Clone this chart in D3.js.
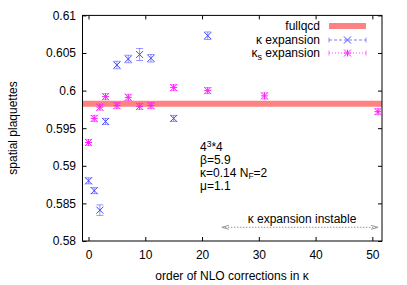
<!DOCTYPE html>
<html><head><meta charset="utf-8">
<script src="https://cdn.jsdelivr.net/npm/d3@7"></script>
<style>
body{margin:0;background:#fff}
svg{display:block}
text{font-family:"Liberation Sans",Arial,sans-serif;font-size:12px;fill:#000}
</style>
</head><body>
<svg id="c" width="407" height="285"></svg>
<script>
// ---- data ----
const ordersKappa  = [0, 1, 2, 3, 5, 7, 9, 11, 15, 21];
const valuesKappa  = [0.5880, 0.5867, 0.5841, 0.5959, 0.6034, 0.6042, 0.6048, 0.6043, 0.5963, 0.6073];
const errorsKappa  = [0.0004, 0.0004, 0.0007, 0.0004, 0.0005, 0.0005, 0.0008, 0.0005, 0.0004, 0.0005];

const ordersKappaS = [0, 1, 2, 3, 5, 7, 9, 11, 15, 21, 31, 51];
const valuesKappaS = [0.5931, 0.5963, 0.5978, 0.5992, 0.5980, 0.5991, 0.5979, 0.5980, 0.6004, 0.6000, 0.5993, 0.5972];
const errorsKappaS = [0.0004, 0.0004, 0.0004, 0.0004, 0.0004, 0.0004, 0.0004, 0.0004, 0.0004, 0.0004, 0.0004, 0.0004];

const fullqcd = 0.59824;

const xTicks = [0, 10, 20, 30, 40, 50];
const yTicks = [0.58, 0.585, 0.59, 0.595, 0.6, 0.605, 0.61];
const yTickLabels = ["0.58", "0.585", "0.59", "0.595", "0.6", "0.605", "0.61"];
const seriesNames = ["fullqcd", "κ expansion", "κs expansion"];
const annotation = ["4³*4", "β=5.9", "κ=0.14 N_F=2", "μ=1.1"];
const instableRange = [23.5, 51];

// ---- layout ----
const L = 82.5, R = 382, T = 15.4, B = 241;
const svg = d3.select("#c");
const x = d3.scaleLinear().domain([-1.06, 51.7]).range([L, R]);
const y = d3.scaleLinear().domain([0.58, 0.61]).range([B, T]);

const BLUE = "#4646ff", MAG = "#ff20ff", BAND = "#ff8282";

// fullqcd band
svg.append("line").attr("x1", L).attr("x2", R)
  .attr("y1", y(fullqcd)).attr("y2", y(fullqcd))
  .attr("stroke", BAND).attr("stroke-width", 6);

// axes
function style(g){
  g.attr("font-family", null).attr("font-size", null);
  g.select(".domain").remove();
  g.selectAll(".tick line").attr("stroke", "#000");
}
svg.append("g").attr("transform", `translate(0,${B})`)
  .call(d3.axisBottom(x).tickValues(xTicks).tickSizeInner(-4).tickSizeOuter(0).tickPadding(9.5))
  .call(style);
svg.append("g").attr("transform", `translate(0,${T})`)
  .call(d3.axisTop(x).tickValues(xTicks).tickSizeInner(-4).tickSizeOuter(0).tickFormat(""))
  .call(style);
svg.append("g").attr("transform", `translate(${L},0)`)
  .call(d3.axisLeft(y).tickValues(yTicks).tickSizeInner(-4).tickSizeOuter(0).tickPadding(6.5)
    .tickFormat((d, i) => yTickLabels[i]))
  .call(style);
svg.append("g").attr("transform", `translate(${R},0)`)
  .call(d3.axisRight(y).tickValues(yTicks).tickSizeInner(-4).tickSizeOuter(0).tickFormat(""))
  .call(style);

svg.append("rect").attr("x", L).attr("y", T).attr("width", R - L).attr("height", B - T)
  .attr("fill", "none").attr("stroke", "#000").attr("stroke-width", 1);

// axis titles
svg.append("text").attr("x", 232).attr("y", 280).attr("text-anchor", "middle")
  .text("order of NLO corrections in κ");
svg.append("text").attr("transform", "translate(17,128) rotate(-90)").attr("text-anchor", "middle")
  .text("spatial plaquettes");

// symbols
const S = 3.5;
function cross(g, cx, cy, color){
  g.append("path").attr("d", `M${cx-S},${cy-S}L${cx+S},${cy+S}M${cx-S},${cy+S}L${cx+S},${cy-S}`)
    .attr("stroke", color).attr("stroke-width", 1).attr("fill", "none");
}
function star(g, cx, cy, color){
  cross(g, cx, cy, color);
  g.append("path").attr("d", `M${cx-S},${cy}L${cx+S},${cy}M${cx},${cy-S}L${cx},${cy+S}`)
    .attr("stroke", color).attr("stroke-width", 1).attr("fill", "none");
}
function errbar(g, cx, y1, y2, color){
  g.append("path").attr("d", `M${cx},${y1}L${cx},${y2}M${cx-S},${y1}L${cx+S},${y1}M${cx-S},${y2}L${cx+S},${y2}`)
    .attr("stroke", color).attr("stroke-width", 1).attr("fill", "none").attr("opacity", 0.55);
}

const gK = svg.append("g");
ordersKappa.forEach((o, i) => {
  const cx = x(o), cy = y(valuesKappa[i]);
  errbar(gK, cx, y(valuesKappa[i] + errorsKappa[i]), y(valuesKappa[i] - errorsKappa[i]), BLUE);
  cross(gK, cx, cy, BLUE);
});
const gS = svg.append("g");
ordersKappaS.forEach((o, i) => {
  const cx = x(o), cy = y(valuesKappaS[i]);
  errbar(gS, cx, y(valuesKappaS[i] + errorsKappaS[i]), y(valuesKappaS[i] - errorsKappaS[i]), MAG);
  star(gS, cx, cy, MAG);
});

// legend
const lgX1 = 329, lgX2 = 366, lgText = 320;
const rows = [26, 40, 53];
svg.append("text").attr("x", lgText).attr("y", rows[0] + 4).attr("text-anchor", "end").text(seriesNames[0]);
svg.append("line").attr("x1", lgX1).attr("x2", lgX2).attr("y1", rows[0]).attr("y2", rows[0])
  .attr("stroke", BAND).attr("stroke-width", 6);

const t1 = svg.append("text").attr("x", lgText).attr("y", rows[1] + 4).attr("text-anchor", "end");
t1.text(seriesNames[1]);
svg.append("line").attr("x1", lgX1).attr("x2", lgX2).attr("y1", rows[1]).attr("y2", rows[1])
  .attr("stroke", BLUE).attr("stroke-dasharray", "3,2").attr("opacity", 0.7);
svg.append("path").attr("d", `M${lgX1},${rows[1]-2.5}L${lgX1},${rows[1]+2.5}M${lgX2},${rows[1]-2.5}L${lgX2},${rows[1]+2.5}`)
  .attr("stroke", BLUE).attr("opacity", 0.6);
cross(svg, (lgX1 + lgX2) / 2, rows[1], BLUE);

const t2 = svg.append("text").attr("x", lgText).attr("y", rows[2] + 4).attr("text-anchor", "end");
t2.append("tspan").text("κ");
t2.append("tspan").attr("dy", 3).attr("font-size", "9px").text("s");
t2.append("tspan").attr("dy", -3).text(" expansion");
svg.append("line").attr("x1", lgX1).attr("x2", lgX2).attr("y1", rows[2]).attr("y2", rows[2])
  .attr("stroke", MAG).attr("stroke-dasharray", "1,2").attr("opacity", 0.8);
svg.append("path").attr("d", `M${lgX1},${rows[2]-2.5}L${lgX1},${rows[2]+2.5}M${lgX2},${rows[2]-2.5}L${lgX2},${rows[2]+2.5}`)
  .attr("stroke", MAG).attr("opacity", 0.6);
star(svg, (lgX1 + lgX2) / 2, rows[2], MAG);

// annotation
const ax = 200, fs = "11.5px";
const a0 = svg.append("text").attr("x", ax).attr("y", 151).attr("font-size", fs);
a0.append("tspan").text("4");
a0.append("tspan").attr("dy", -4.5).attr("font-size", "8.5px").text("3");
a0.append("tspan").attr("dy", 4.5).text("*4");
svg.append("text").attr("x", ax).attr("y", 164).attr("font-size", fs).text(annotation[1]);
const a2 = svg.append("text").attr("x", ax).attr("y", 177).attr("font-size", fs);
a2.append("tspan").text("κ=0.14 N");
a2.append("tspan").attr("dy", 2).attr("font-size", "8.5px").text("F");
a2.append("tspan").attr("dy", -2).text("=2");
svg.append("text").attr("x", ax).attr("y", 190).attr("font-size", fs).text(annotation[3]);

// instable arrow
const ay = 227.3;
svg.append("line").attr("x1", x(instableRange[0])).attr("x2", x(instableRange[1]))
  .attr("y1", ay).attr("y2", ay).attr("stroke", "#999").attr("stroke-dasharray", "1.5,1.5");
[[x(instableRange[0]), 1], [x(instableRange[1]), -1]].forEach(([px, dir]) => {
  svg.append("path").attr("d", `M${px + dir*7},${ay-2}L${px},${ay}L${px + dir*7},${ay+2}`)
    .attr("stroke", "#999").attr("fill", "none");
});
svg.append("text").attr("x", 302).attr("y", 222.5).attr("text-anchor", "middle").text("κ expansion instable");
</script>
</body></html>
